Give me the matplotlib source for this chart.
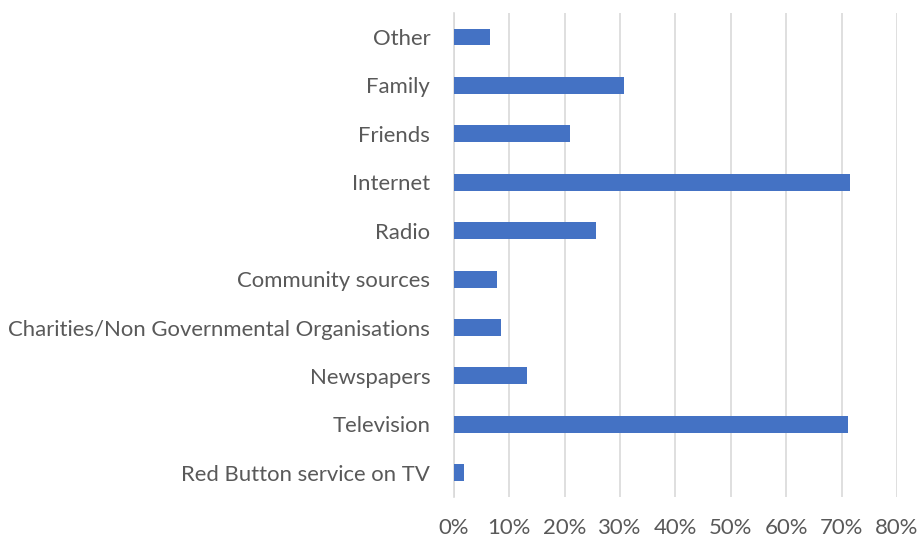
import matplotlib
matplotlib.use("Agg")
import matplotlib.pyplot as plt
from matplotlib.ticker import PercentFormatter

categories = ["Red Button service on TV", "Television", "Newspapers",
              "Charities/Non Governmental Organisations", "Community sources",
              "Radio", "Internet", "Friends", "Family", "Other"]
values = [1.9, 71.1, 13.3, 8.5, 7.8, 25.6, 71.6, 20.9, 30.8, 6.6]
xticks = [0, 10, 20, 30, 40, 50, 60, 70, 80]

plt.rcParams['font.family'] = ['Lato', 'DejaVu Sans']
fig = plt.figure(figsize=(9.18, 5.38), dpi=100)
ax = fig.add_axes([0.4943, 0.0762, 0.4828, 0.900])

ax.barh(range(len(categories)), values, height=0.35, color="#4472C4", zorder=3)
ax.set_yticks(range(len(categories)))
ax.set_yticklabels(categories)
ax.set_ylim(-0.5, len(categories) - 0.5)
ax.set_xlim(0, 80)
ax.set_xticks(xticks)
ax.xaxis.set_major_formatter(PercentFormatter(decimals=0))
ax.grid(axis="x", color="#D9D9D9", linewidth=1.2, zorder=0)
for s in ["top", "right", "bottom"]:
    ax.spines[s].set_visible(False)
ax.spines["left"].set_color("#D9D9D9")
ax.spines["left"].set_linewidth(1.2)
ax.tick_params(axis="both", length=0, colors="#595959", labelsize=15.9)
ax.tick_params(axis="y", pad=17)
ax.tick_params(axis="x", pad=15)

fig.savefig("out.png", dpi=100)
